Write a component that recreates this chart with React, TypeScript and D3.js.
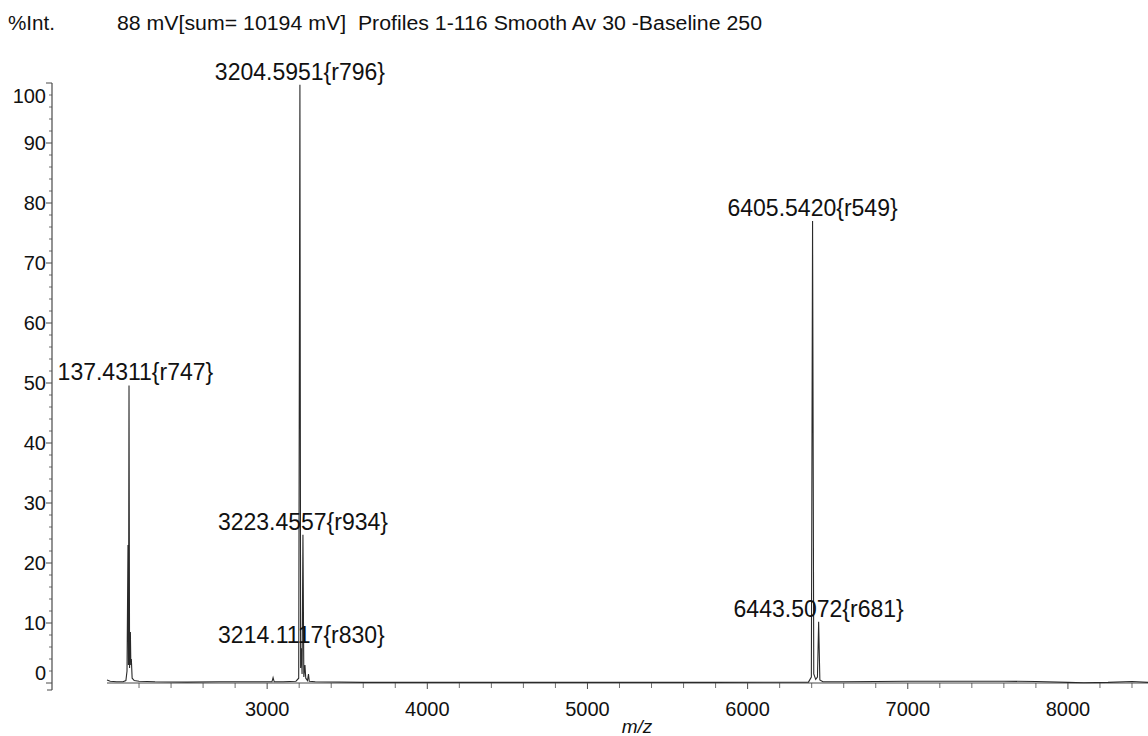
import React from 'react';
import * as d3 from 'd3';

const W = 1148;
const H = 736;

// Labelled peak apices: m/z, % intensity, resolution tag
const PEAK_MZ = [2137.4311, 3204.5951, 3214.1117, 3223.4557, 6405.542, 6443.5072];
const PEAK_PCT = [49.6, 99.7, 5.8, 24.7, 77.0, 10.2];
const PEAK_TAG = ['r747', 'r796', 'r830', 'r934', 'r549', 'r681'];

// Remaining profile samples (m/z, % intensity): baseline, shoulders and unlabelled spikes
const PROFILE: [number, number][] = [
  [2000, 0.5], [2020, 0.3], [2060, 0.2], [2100, 0.2], [2118, 0.4],
  [2125, 2.0], [2131, 23.0], [2134, 3.0],
  [2141, 2.5], [2146, 8.5], [2149, 3.0], [2152, 4.0], [2157, 0.8], [2170, 0.4], [2200, 0.3],
  [2300, 0.2], [2500, 0.15], [2700, 0.2], [2900, 0.2], [3030, 0.2], [3037, 0.9], [3044, 0.2],
  [3100, 0.2], [3180, 0.3], [3197, 0.8],
  [3209, 2.5], [3218, 1.5],
  [3229, 1.0], [3236, 3.0], [3241, 0.8], [3252, 0.4], [3258, 1.5], [3263, 0.3], [3300, 0.2],
  [3600, 0.1], [4200, 0.1], [5000, 0.1], [5800, 0.1], [6380, 0.15], [6398, 1.0],
  [6413, 1.5], [6425, 0.6], [6436, 1.0],
  [6451, 0.5], [6470, 0.2], [6600, 0.2], [6800, 0.25], [7000, 0.3], [7300, 0.3],
  [7600, 0.3], [7800, 0.25], [8000, 0.1], [8100, 0.05], [8250, 0.1], [8400, 0.25], [8500, 0.1],
];

const X_MAJOR = [3000, 4000, 5000, 6000, 7000, 8000];
const Y_MAJOR = [0, 10, 20, 30, 40, 50, 60, 70, 80, 90, 100];

const TITLE_LEFT = '%Int.';
const TITLE_MAIN = '88 mV[sum= 10194 mV]  Profiles 1-116 Smooth Av 30 -Baseline 250';
const X_TITLE = 'm/z';

const FONT = "'Liberation Sans', Arial, sans-serif";

export default function App() {
  const x = d3.scaleLinear().domain([2000, 8500]).range([107, 1148]);
  const y = d3.scaleLinear().domain([0, 100]).range([683, 83]);

  const peaks = PEAK_MZ.map((mz, i) => ({ mz, pct: PEAK_PCT[i], tag: PEAK_TAG[i] }));
  const points: [number, number][] = [
    ...PROFILE,
    ...peaks.map((p) => [p.mz, p.pct] as [number, number]),
  ].sort((a, b) => a[0] - b[0]);

  const line = d3
    .line<[number, number]>()
    .x((d) => x(d[0]))
    .y((d) => y(d[1]));

  const xMinor = d3.range(2200, 8500, 200).filter((v) => !X_MAJOR.includes(v));
  const yMinor = d3.range(0, 100, 2).filter((v) => v % 10 !== 0);
  const axisColor = '#4a4a4a';
  const y0 = y(0);
  const yAxisX = 52;

  return (
    <svg
      width={W}
      height={H}
      style={{ position: 'fixed', left: 0, top: 0, background: '#fff' }}
      fontFamily={FONT}
    >
      <defs>
        <clipPath id="plot-clip">
          <rect x={yAxisX + 5} y={0} width={W} height={y0 + 2} />
        </clipPath>
      </defs>
      <rect x={0} y={0} width={W} height={H} fill="#fff" />

      {/* header */}
      <text x={8} y={30} fontSize={20} fill="#111" textLength={47} lengthAdjust="spacingAndGlyphs">
        {TITLE_LEFT}
      </text>
      <text
        x={117}
        y={30}
        fontSize={20}
        fill="#111"
        style={{ whiteSpace: 'pre' }}
        textLength={645}
        lengthAdjust="spacingAndGlyphs"
      >
        {TITLE_MAIN}
      </text>

      {/* y axis */}
      <line x1={yAxisX} x2={yAxisX} y1={y(100)} y2={y0 + 7} stroke={axisColor} strokeWidth={1.2} />
      {Y_MAJOR.map((v) => (
        <g key={'ym' + v}>
          <line x1={yAxisX - 6} x2={yAxisX} y1={y(v)} y2={y(v)} stroke={axisColor} strokeWidth={1} />
          <text
            x={yAxisX - 6}
            y={y(v) + (v === 0 ? -10 : v === 100 ? 13 : 0)}
            dy="0.36em"
            textAnchor="end"
            fontSize={20}
            fill="#111"
          >
            {v}
          </text>
        </g>
      ))}
      {yMinor.map((v) => (
        <line key={'yn' + v} x1={yAxisX - 3} x2={yAxisX} y1={y(v)} y2={y(v)} stroke={axisColor} strokeWidth={0.8} />
      ))}
      <line x1={yAxisX - 5} x2={yAxisX} y1={y0 + 7} y2={y0 + 7} stroke={axisColor} strokeWidth={1} />

      {/* x axis */}
      <line x1={x(2000)} x2={W} y1={y0} y2={y0} stroke={axisColor} strokeWidth={1.2} />
      {X_MAJOR.map((v) => (
        <g key={'xm' + v}>
          <line x1={x(v)} x2={x(v)} y1={y0} y2={y0 + 6} stroke={axisColor} strokeWidth={1} />
          <text x={x(v)} y={716} textAnchor="middle" fontSize={20} fill="#111">
            {v}
          </text>
        </g>
      ))}
      {xMinor.map((v) => (
        <line key={'xn' + v} x1={x(v)} x2={x(v)} y1={y0} y2={y0 + 5} stroke={axisColor} strokeWidth={0.8} />
      ))}
      <text x={637} y={733} textAnchor="middle" fontSize={19} fontStyle="italic" fill="#111">
        {X_TITLE}
      </text>

      {/* spectrum trace */}
      <path d={line(points) ?? ''} fill="none" stroke="#2a2a2a" strokeWidth={1.1} strokeLinejoin="miter" />

      {/* peak annotations */}
      <g clipPath="url(#plot-clip)">
        {peaks.map((p) => (
          <text
            key={p.tag}
            x={x(p.mz)}
            y={y(p.pct) - 5}
            textAnchor="middle"
            fontSize={23}
            fill="#111"
          >
            {`${p.mz.toFixed(4)}{${p.tag}}`}
          </text>
        ))}
      </g>
    </svg>
  );
}
